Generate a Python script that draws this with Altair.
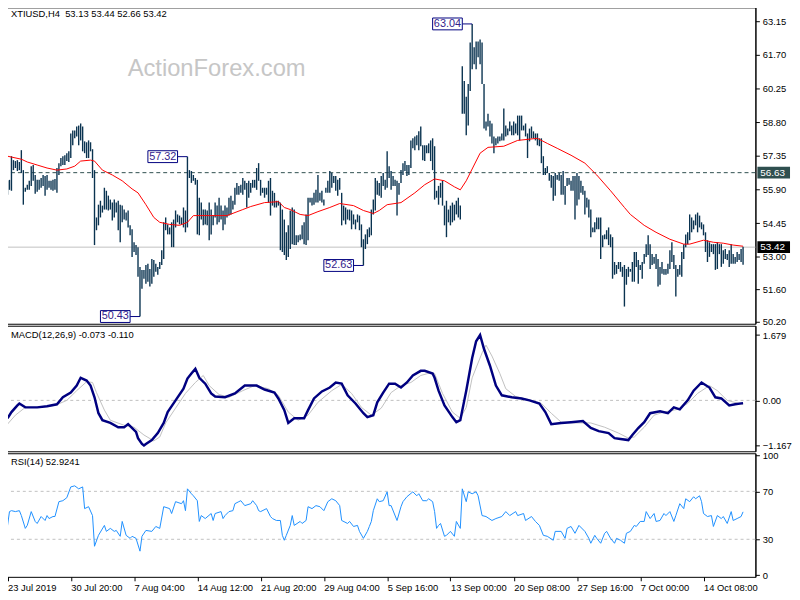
import altair as alt
import pandas as pd

# ---------------- data ----------------
highs = [
56.28,56.32,57.34,57.17,57.13,57.17,57.09,57.60,56.74,55.98,
56.11,56.28,56.91,56.96,56.53,56.32,56.32,56.40,56.53,56.49,
56.53,56.28,56.28,56.32,56.36,56.83,57.04,57.26,57.34,57.38,
57.47,57.55,58.32,58.45,58.45,58.62,58.66,58.75,58.62,57.98,
57.94,58.02,57.94,57.64,56.74,54.70,55.25,55.42,55.21,55.98,
55.85,55.64,55.47,55.34,55.47,55.34,55.42,55.25,55.21,55.04,
54.91,55.00,54.36,54.19,53.63,53.51,53.42,52.57,52.44,52.44,
52.65,52.70,52.48,52.91,52.87,52.70,52.57,52.78,53.29,54.49,
54.70,54.40,54.27,54.49,54.61,55.00,54.83,54.78,54.70,55.13,
55.00,57.32,56.74,56.70,56.53,56.40,56.32,55.55,55.34,55.04,
55.04,55.00,55.34,55.04,54.78,55.34,55.21,55.55,55.21,55.00,
55.21,55.13,55.55,55.64,55.42,55.98,56.19,56.06,56.11,56.40,
56.28,56.19,56.28,56.19,56.32,56.32,56.83,57.04,56.32,55.98,
55.98,55.98,56.28,56.40,55.85,55.76,55.42,55.42,55.34,55.04,
54.61,54.06,54.36,55.00,55.13,55.04,53.93,53.93,53.97,54.36,
54.49,54.83,55.55,55.55,55.55,55.76,55.89,56.53,55.76,55.85,
55.47,55.98,56.28,56.70,56.62,56.49,56.49,56.32,56.40,55.76,
55.21,55.13,55.04,55.04,55.00,54.83,54.61,54.83,54.78,54.40,
53.76,53.97,54.19,54.27,55.04,55.47,56.40,56.28,56.19,56.49,
56.62,56.32,57.55,56.91,56.70,56.49,56.32,56.28,56.19,56.74,
57.04,57.13,56.96,56.96,58.02,58.11,58.19,58.24,58.41,58.62,
57.81,57.81,57.81,57.89,58.02,58.11,57.77,55.85,56.06,56.19,
56.28,55.21,55.42,55.04,55.21,55.34,55.25,55.42,55.55,55.21,
61.22,60.58,59.90,60.45,62.24,63.04,62.03,62.28,62.28,62.37,
62.24,60.45,58.83,59.17,58.87,58.75,58.19,58.11,58.19,58.19,
58.32,59.39,58.66,58.53,58.83,58.66,58.83,58.75,59.09,59.09,
59.09,58.66,58.75,58.32,58.53,58.62,58.41,58.32,58.32,58.11,
58.11,57.34,56.83,56.91,56.62,56.53,56.49,56.62,56.53,56.62,
56.53,56.70,56.06,56.40,56.40,56.28,56.49,56.49,56.62,56.49,
56.28,56.06,55.85,55.55,55.47,55.04,54.27,54.49,54.70,54.70,
54.70,53.93,53.97,54.15,54.27,53.97,53.85,52.78,52.65,52.78,
52.78,52.57,52.65,52.48,52.57,52.48,52.78,53.21,53.21,52.87,
52.65,52.78,53.12,53.55,53.93,53.55,53.12,53.00,53.12,52.91,
52.57,52.78,52.48,52.48,52.70,53.29,53.63,53.08,52.65,52.48,
52.65,53.21,53.55,53.97,54.06,54.83,54.70,54.57,54.83,54.91,
54.78,54.49,54.40,54.06,53.72,53.63,53.55,53.55,53.55,53.63,
53.55,53.55,53.29,53.34,53.12,53.29,53.55,53.12,53.00,53.21,
53.12,53.34,53.44]

lows = [
55.68,55.89,55.85,56.74,56.83,56.70,56.74,56.62,55.25,55.81,
55.89,55.89,56.06,56.28,55.72,55.81,55.89,55.98,56.06,55.64,
55.89,55.98,55.89,55.85,55.89,55.76,56.53,56.91,56.96,56.96,
57.13,57.09,57.26,57.81,58.11,58.19,57.81,58.02,57.55,57.47,
57.26,57.26,57.55,56.40,53.51,54.15,54.36,54.70,54.91,55.04,
55.04,55.00,55.04,54.57,54.70,54.91,54.15,53.63,54.49,54.61,
54.57,54.27,53.93,53.00,53.21,53.08,52.14,50.43,51.63,52.06,
51.84,51.93,51.72,51.84,52.14,52.36,52.23,52.48,52.65,52.91,
54.15,53.97,53.97,53.42,53.42,54.27,54.49,54.40,54.40,54.27,
54.06,54.27,56.40,56.19,56.28,56.11,53.97,53.93,54.61,54.36,
54.40,54.36,53.72,53.97,54.36,54.70,54.40,54.49,54.61,54.15,
54.40,54.70,54.78,54.83,55.04,55.25,55.68,55.68,55.76,55.68,
55.89,55.13,55.55,55.76,55.98,55.98,55.89,56.28,55.64,55.76,
55.55,55.68,55.34,54.78,55.21,55.13,55.13,55.21,53.29,53.21,
53.08,52.87,53.00,53.34,53.55,53.51,53.51,53.63,53.72,53.76,
53.55,53.51,53.72,55.34,55.21,55.25,55.34,55.34,55.42,55.34,
55.21,55.76,55.76,55.76,55.98,56.19,55.85,55.64,55.89,54.36,
54.57,54.40,54.61,54.57,54.19,54.40,54.19,54.49,54.15,53.42,
52.63,53.34,53.55,53.85,53.93,54.83,55.00,55.68,55.64,55.55,
56.06,55.89,55.98,56.40,55.89,56.06,56.06,54.78,55.68,56.19,
56.53,56.70,56.49,56.53,56.83,57.68,57.60,57.81,57.60,57.77,
57.17,57.13,57.47,57.47,57.13,56.74,55.47,55.55,55.25,55.55,
55.21,54.36,53.85,54.49,54.36,54.49,54.57,54.83,54.70,54.61,
59.17,59.17,58.24,58.66,60.15,61.09,61.30,61.09,61.60,61.30,
60.45,58.53,58.45,58.62,58.19,57.89,57.47,57.81,57.89,57.98,
58.02,58.02,58.19,58.24,58.41,58.24,58.24,58.32,58.24,58.02,
58.45,58.45,58.19,57.26,57.98,58.11,58.11,58.02,57.81,57.77,
57.04,56.53,56.53,56.62,56.28,55.98,55.42,55.64,56.32,56.28,
55.68,55.68,55.25,56.06,56.11,55.85,55.85,54.61,55.21,55.47,
55.76,55.68,54.83,55.13,54.70,53.85,54.06,54.06,54.19,54.19,
52.91,53.42,53.76,53.76,53.51,53.42,52.06,52.23,52.27,52.48,
52.36,52.14,50.86,51.80,52.14,52.36,51.93,51.93,52.57,51.84,
52.44,52.06,52.70,53.00,53.08,52.48,52.65,52.70,52.48,51.72,
51.80,52.27,52.23,52.23,52.27,52.48,52.78,52.48,51.29,52.14,
52.23,52.14,52.91,53.42,53.55,53.72,54.06,54.19,54.36,54.06,
54.27,54.19,53.93,53.21,52.78,53.00,53.21,53.12,52.44,52.48,
53.12,52.57,52.70,52.91,52.87,52.57,52.70,52.70,52.70,52.78,
52.87,52.78,52.66]

ma_idx = [0,7,10,15,20,25,30,34,37,42,44,48,53,58,63,66,70,74,77,82,87,91,94,102,111,
          119,123,130,137,140,143,148,152,157,163,168,175,180,185,188,192,199,206,211,
          216,221,226,229,232,236,239,243,251,258,268,273,278,285,292,298,305,312,315,
          322,328,335,342,345,352,357,362,367,372]
ma_val = [57.34,57.21,57.09,56.96,56.83,56.74,56.79,56.91,57.13,57.17,57.13,56.74,56.53,
          56.28,55.93,55.76,55.25,54.70,54.49,54.40,54.36,54.49,54.78,54.78,54.78,
          55.04,55.17,55.34,55.38,55.13,55.04,54.83,54.78,54.95,55.13,55.30,55.21,
          55.00,54.87,55.00,55.25,55.34,55.76,56.11,56.36,56.28,56.02,55.89,56.28,
          56.96,57.47,57.72,57.77,58.02,58.11,57.89,57.68,57.38,57.04,56.53,55.85,
          55.13,54.83,54.36,54.06,53.76,53.55,53.55,53.72,53.63,53.59,53.51,53.46]

macd_idx = [0,2,5,6,9,12,15,20,25,28,32,35,37,40,42,44,46,48,52,56,59,61,65,66,68,69,70,
            73,76,79,81,85,89,91,93,95,97,100,103,105,110,115,120,126,130,135,137,140,
            142,145,150,152,155,159,163,166,169,172,176,180,182,185,187,190,193,196,199,
            202,205,209,211,215,216,218,221,225,227,229,232,235,237,239,241,244,247,250,
            255,260,264,269,272,275,280,285,291,295,299,304,307,310,314,316,319,322,325,
            330,334,337,340,344,347,351,355,358,361,365,368,372]
macd_val = [-0.46,-0.30,-0.13,-0.08,-0.18,-0.18,-0.18,-0.15,-0.10,0.08,0.20,0.38,0.58,
            0.51,0.38,0.08,-0.33,-0.51,-0.58,-0.69,-0.69,-0.61,-0.81,-0.97,-1.12,-1.16,
            -1.12,-1.02,-0.84,-0.58,-0.30,0.00,0.30,0.56,0.69,0.81,0.58,0.43,0.18,0.10,
            0.08,0.18,0.38,0.38,0.28,0.20,0.05,-0.25,-0.58,-0.46,-0.46,-0.25,0.05,0.23,
            0.33,0.46,0.43,0.13,-0.08,-0.33,-0.43,-0.38,-0.05,0.20,0.43,0.43,0.33,0.46,
            0.64,0.76,0.76,0.69,0.58,0.25,-0.13,-0.43,-0.56,-0.51,0.25,1.09,1.52,1.68,
            1.32,0.89,0.38,0.13,0.08,0.05,0.00,-0.08,-0.30,-0.61,-0.58,-0.56,-0.53,-0.71,
            -0.79,-0.84,-0.97,-0.99,-1.02,-0.89,-0.71,-0.56,-0.33,-0.28,-0.33,-0.18,-0.23,
            0.00,0.25,0.46,0.33,0.08,0.05,-0.13,-0.10,-0.07]

sig_idx = [0,4,9,15,24,30,35,40,43,45,49,52,59,64,69,74,77,80,85,90,95,99,102,107,112,
           119,125,132,137,142,147,152,157,164,169,174,179,184,189,194,199,204,209,214,
           216,220,225,229,232,235,240,242,245,249,252,257,265,270,275,280,287,295,302,
           309,314,317,322,327,332,339,344,349,355,359,364,372]
sig_val = [-0.61,-0.38,-0.18,-0.18,-0.13,0.00,0.25,0.48,0.46,0.20,-0.25,-0.51,-0.64,
           -0.69,-0.89,-1.04,-0.94,-0.58,-0.20,0.18,0.46,0.64,0.38,0.15,0.08,0.25,0.38,
           0.30,0.13,-0.30,-0.51,-0.38,-0.05,0.25,0.41,0.18,-0.18,-0.38,-0.20,0.20,0.38,
           0.46,0.64,0.71,0.69,0.18,-0.30,-0.46,-0.18,0.58,1.22,1.42,1.14,0.69,0.30,0.10,
           0.00,-0.08,-0.33,-0.56,-0.58,-0.58,-0.69,-0.84,-0.97,-0.94,-0.69,-0.38,-0.30,
           -0.23,-0.08,0.18,0.38,0.25,0.00,-0.11]

rsi_idx = [0,1,2,4,6,7,9,10,12,14,15,17,19,20,21,23,24,26,28,30,32,34,36,38,39,41,43,44,
           46,49,50,52,54,55,57,58,60,62,63,65,67,68,70,73,75,77,79,82,83,85,88,89,90,91,
           93,94,96,97,98,100,103,104,105,108,109,110,112,114,115,117,118,120,123,124,126,
           127,128,131,133,134,136,138,139,140,141,143,144,145,148,149,151,152,154,156,158,
           160,162,164,166,168,169,172,173,175,177,178,180,182,183,184,185,187,188,190,192,
           193,194,197,199,200,202,205,207,208,210,212,213,215,216,217,218,219,221,222,224,
           226,227,229,230,232,233,235,237,238,240,242,245,247,250,252,254,257,258,261,262,
           265,267,269,271,273,276,277,280,282,283,285,287,289,292,294,295,297,298,300,302,
           303,305,307,308,310,312,313,315,317,318,320,322,323,325,327,328,330,332,333,335,
           337,338,340,342,343,345,347,348,350,351,352,354,356,357,359,361,362,364,366,367,
           369,371,372]
rsi_val = [41.3,53.1,53.9,53.1,53.9,49.8,39.1,41.6,53.1,44.9,43.2,49.0,45.7,49.8,47.3,49.0,
           49.0,61.4,62.2,64.7,73.7,74.6,72.1,73.7,55.6,57.2,49.8,24.2,33.3,41.6,36.6,39.1,
           36.6,37.4,32.5,44.9,33.3,30.8,32.5,30.8,20.1,32.5,37.4,36.6,40.7,39.1,57.2,55.6,
           51.5,61.4,59.7,62.2,53.9,72.1,68.0,66.3,62.2,44.9,49.8,47.3,51.5,45.7,51.5,53.1,
           47.3,49.8,53.1,53.9,59.7,61.4,62.2,58.1,59.7,62.2,58.1,53.9,53.1,55.6,49.0,47.3,
           45.7,45.7,33.3,29.2,33.3,41.6,49.8,41.6,44.9,43.2,45.7,57.2,55.6,58.1,57.2,53.9,
           61.4,63.8,62.2,58.1,45.7,43.2,44.9,40.7,41.6,36.6,30.8,36.6,40.7,44.9,53.9,63.8,
           61.4,62.2,69.6,58.1,58.1,45.7,57.2,61.4,65.5,69.6,66.3,68.0,62.2,62.2,63.8,61.4,
           53.1,39.1,41.6,43.2,32.5,33.3,36.6,32.5,44.9,39.1,72.1,61.4,69.6,68.0,69.6,66.3,
           49.8,49.0,45.7,47.3,49.0,53.1,49.8,53.1,49.8,51.5,45.7,49.0,44.9,41.6,33.3,32.5,
           29.2,36.6,36.6,30.8,39.1,40.7,35.0,41.6,36.6,30.8,26.7,33.3,30.8,26.7,35.0,36.6,
           30.8,26.7,30.8,29.2,26.7,35.0,36.6,41.6,40.7,44.9,44.9,53.1,47.3,51.5,44.9,45.7,
           51.5,49.8,53.1,44.9,49.8,59.7,55.6,63.8,61.4,65.5,63.8,66.3,61.4,51.5,49.0,49.8,
           40.7,49.8,47.3,49.0,43.2,53.1,45.7,47.3,49.0,52.9]

price_ticks = [50.20, 51.60, 53.00, 54.45, 55.90, 57.35, 58.80, 60.25, 61.70, 63.15]
macd_ticks = [-1.167, 0.0, 1.679]
rsi_ticks = [0, 30, 70, 100]
rsi_levels = [30, 70]
date_idx = [0, 32, 64, 96, 128, 160, 192, 224, 256, 288, 320, 352]
date_labels = ["23 Jul 2019", "30 Jul 20:00", "7 Aug 04:00", "14 Aug 12:00",
               "21 Aug 20:00", "29 Aug 04:00", "5 Sep 16:00", "13 Sep 00:00",
               "20 Sep 08:00", "27 Sep 16:00", "7 Oct 00:00", "14 Oct 08:00"]
ann_idx = [235, 91, 180, 67]
ann_price = [63.04, 57.32, 52.63, 50.43]
last_close = 53.42
level_price = 56.63
header_main = "XTIUSD,H4\u00a0\u00a053.13 53.44 52.66 53.42"
header_macd = "MACD(12,26,9) -0.073 -0.110"
header_rsi = "RSI(14) 52.9241"
watermark = "ActionForex.com"

# ---------------- styling ----------------
FONT = "Liberation Sans"
FS = 9.5
W = 758
BAR = "#0a3350"
NAVY = "#000080"

bars_df = pd.DataFrame({"i": list(range(len(highs))), "high": highs, "low": lows})
ma_df = pd.DataFrame({"i": ma_idx, "v": ma_val})
macd_df = pd.DataFrame({"i": macd_idx, "v": macd_val})
sig_df = pd.DataFrame({"i": sig_idx, "v": sig_val})
rsi_df = pd.DataFrame({"i": rsi_idx, "v": rsi_val})
ann_df = pd.DataFrame({"i": ann_idx, "v": ann_price,
                       "t": [f"{p:.2f}" for p in ann_price]})

xscale = alt.Scale(domain=[-0.75, 378.25], nice=False, zero=False)
pscale = alt.Scale(domain=[50.119, 63.753], nice=False, zero=False)
mscale = alt.Scale(domain=[-1.3083, 1.9187], nice=False, zero=False)
rscale = alt.Scale(domain=[-1.32, 101.77], nice=False, zero=False)

common_axis = dict(title=None, grid=False, tickSize=4, tickColor="black",
                   domainColor="black", labelColor="black", labelFont=FONT,
                   labelFontSize=FS)

price_axis = alt.Axis(orient="right", values=price_ticks, format=".2f",
                      labelPadding=3, **common_axis)
macd_axis = alt.Axis(orient="right", values=macd_ticks, labelPadding=3,
                     labelExpr="datum.value == 0 ? '0.00' : format(datum.value, '.3f')",
                     **common_axis)
rsi_axis = alt.Axis(orient="right", values=rsi_ticks, labelPadding=3, format="d",
                    labelFlush=True, **common_axis)
label_js = "[" + ",".join("'" + s + "'" for s in date_labels) + "]"
date_axis = alt.Axis(values=date_idx, labelExpr=label_js + "[round(datum.value/32)]",
                     labelAlign="left", labelBaseline="top", labelPadding=2,
                     labelOverlap=False, labelFlush=False, domain=False, **common_axis)


def PX(f="i:Q"):
    return alt.X(f, scale=xscale, axis=None)


def PY(f):
    return alt.Y(f, scale=pscale, axis=price_axis)


# ---------------- main price panel ----------------
close_line = alt.Chart(pd.DataFrame({"v": [last_close]})).mark_rule(
    color="#c0c0c0", strokeWidth=1).encode(y=PY("v:Q"))
level_line = alt.Chart(pd.DataFrame({"v": [level_price]})).mark_rule(
    color="#2f4f4f", strokeWidth=1, strokeDash=[4, 3]).encode(y=PY("v:Q"))
bars = alt.Chart(bars_df).mark_rule(color=BAR, strokeWidth=1.4).encode(
    x=PX(), y=PY("low:Q"), y2="high:Q")
ma = alt.Chart(ma_df).mark_line(color="#ff0000", strokeWidth=1).encode(
    x=PX(), y=PY("v:Q"))
ann_conn = alt.Chart(ann_df).mark_rule(color=NAVY, strokeWidth=1, xOffset=-10).encode(
    x=PX(), x2="i:Q", y=PY("v:Q"))
ann_box = alt.Chart(ann_df).mark_rect(fill="white", stroke=NAVY, strokeWidth=1,
                                      xOffset=-40, x2Offset=-10,
                                      yOffset=-6, y2Offset=6).encode(
    x=PX(), x2="i:Q", y=PY("v:Q"), y2="v:Q")
ann_txt = alt.Chart(ann_df).mark_text(font=FONT, fontSize=11, color="#33228c",
                                      dx=-25, align="center", baseline="middle").encode(
    x=PX(), y=PY("v:Q"), text="t:N")
wm = alt.Chart(pd.DataFrame({"t": [watermark]})).mark_text(
    font=FONT, fontSize=24, color="#c6c6c6", align="left", baseline="alphabetic").encode(
    x=alt.value(123), y=alt.value(69), text="t:N")
hdr1 = alt.Chart(pd.DataFrame({"t": [header_main]})).mark_text(
    font=FONT, fontSize=FS, color="black", align="left", baseline="middle").encode(
    x=alt.value(5), y=alt.value(7), text="t:N")

tags_df = pd.DataFrame({"v": [level_price, last_close],
                        "t": [f"{level_price:.2f}", f"{last_close:.2f}"],
                        "c": ["#2f4f4f", "#000000"]})
tag_box = alt.Chart(tags_df).mark_rect(yOffset=-6, y2Offset=6).encode(
    x=alt.value(W + 2), x2=alt.value(W + 35), y=PY("v:Q"), y2="v:Q",
    color=alt.Color("c:N", scale=None, legend=None))
tag_txt = alt.Chart(tags_df).mark_text(font=FONT, fontSize=FS + 0.5, color="white",
                                       align="left", baseline="middle").encode(
    x=alt.value(W + 5), y=PY("v:Q"), text="t:N")

main = alt.layer(close_line, level_line, bars, ma, ann_conn, ann_box, ann_txt,
                 wm, hdr1, tag_box, tag_txt).properties(width=W, height=320)

# ---------------- MACD panel ----------------
def MY(f):
    return alt.Y(f, scale=mscale, axis=macd_axis)


zero_line = alt.Chart(pd.DataFrame({"v": [0.0]})).mark_rule(
    color="#c0c0c0", strokeDash=[3, 3]).encode(y=MY("v:Q"))
sig_line = alt.Chart(sig_df).mark_line(color="#c0c0c0", strokeWidth=1).encode(
    x=PX(), y=MY("v:Q"))
macd_line = alt.Chart(macd_df).mark_line(color=NAVY, strokeWidth=2.5).encode(
    x=PX(), y=MY("v:Q"))
hdr2 = alt.Chart(pd.DataFrame({"t": [header_macd]})).mark_text(
    font=FONT, fontSize=FS, color="black", align="left", baseline="middle").encode(
    x=alt.value(5), y=alt.value(9), text="t:N")
macd = alt.layer(zero_line, sig_line, macd_line, hdr2).properties(width=W, height=127)

# ---------------- RSI panel ----------------
def RX(f="i:Q"):
    return alt.X(f, scale=xscale, axis=date_axis)


def RY(f):
    return alt.Y(f, scale=rscale, axis=rsi_axis)


lvl = alt.Chart(pd.DataFrame({"v": rsi_levels})).mark_rule(
    color="#c0c0c0", strokeDash=[3, 3]).encode(y=RY("v:Q"))
rsi_line = alt.Chart(rsi_df).mark_line(color="#1e90ff", strokeWidth=1).encode(
    x=RX(), y=RY("v:Q"))
hdr3 = alt.Chart(pd.DataFrame({"t": [header_rsi]})).mark_text(
    font=FONT, fontSize=FS, color="black", align="left", baseline="middle").encode(
    x=alt.value(5), y=alt.value(9), text="t:N")
rsi = alt.layer(lvl, rsi_line, hdr3).properties(width=W, height=125)

chart = alt.vconcat(main, macd, rsi, spacing=2, bounds="flush").configure_view(
    stroke="black", strokeWidth=1).properties(
    padding={"left": -6, "top": -5, "right": 0, "bottom": 0},
    background="white")

chart.save("out.html", embed_options={"renderer": "svg", "actions": False})
